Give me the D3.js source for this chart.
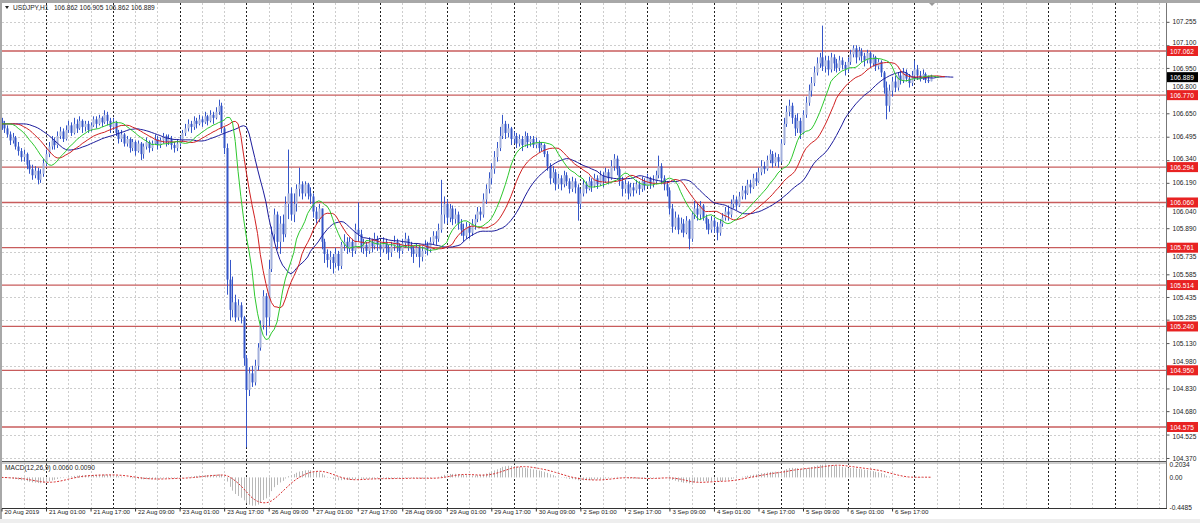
<!DOCTYPE html>
<html><head><meta charset="utf-8">
<script src="https://cdn.jsdelivr.net/npm/d3@7/dist/d3.min.js"></script>
<style>
html,body{margin:0;padding:0;background:#fff;}
svg{display:block;font-family:"Liberation Sans",Arial,sans-serif;}
</style></head>
<body>
<svg id="c" width="1200" height="523"></svg>
<script>
// ---------------- DATA (USDJPY H1) ----------------
const symbolTitle = "USDJPY,H1   106.862 106.905 106.862 106.889";
const macdTitle = "MACD(12,26,9) 0.0060 0.0090";
const firstOpen = 106.60;
const closes = [
106.58,106.55,106.51,106.47,106.49,106.43,106.40,106.36,106.38,106.31,
106.28,106.24,106.27,106.21,106.25,106.32,106.38,106.43,106.47,106.44,
106.50,106.53,106.48,106.54,106.57,106.52,106.58,106.55,106.60,106.56,
106.58,106.54,106.57,106.61,106.58,106.62,106.59,106.64,106.60,106.56,
106.59,106.52,106.48,106.51,106.45,106.48,106.42,106.46,106.40,106.45,
106.38,106.43,106.46,106.42,106.45,106.48,106.44,106.47,106.50,106.46,
106.48,106.44,106.42,106.45,106.47,106.52,106.55,106.58,106.56,106.60,
106.58,106.61,106.59,106.63,106.60,106.64,106.62,106.66,106.70,106.55,
106.42,105.55,105.35,105.40,105.30,105.38,105.30,105.03,104.82,104.93,
104.87,104.98,105.10,105.25,105.44,105.30,105.62,105.85,105.98,105.80,
105.92,105.85,106.05,106.12,105.98,106.05,106.15,106.18,106.12,106.18,
106.12,106.10,106.00,105.95,106.02,105.80,105.72,105.68,105.70,105.66,
105.72,105.64,105.78,105.80,105.76,105.80,105.74,105.88,105.85,105.76,
105.78,105.74,105.80,105.77,105.82,105.78,105.75,105.80,105.76,105.73,
105.77,105.80,105.78,105.74,105.79,105.82,105.78,105.75,105.72,105.76,
105.70,105.74,105.78,105.75,105.80,105.84,105.82,105.88,105.98,106.05,
105.96,106.02,105.95,105.98,105.92,105.88,105.84,105.90,105.86,105.92,
105.95,106.00,105.98,106.08,106.15,106.22,106.28,106.36,106.42,106.50,
106.58,106.52,106.55,106.48,106.50,106.45,106.48,106.44,106.50,106.46,
106.48,106.44,106.46,106.42,106.44,106.38,106.30,106.22,106.26,106.18,
106.22,106.18,106.24,106.20,106.15,106.20,106.16,106.05,106.12,106.18,
106.15,106.20,106.17,106.22,106.18,106.24,106.20,106.26,106.22,106.30,
106.35,106.28,106.20,106.15,106.18,106.12,106.16,106.14,106.18,106.15,
106.20,106.17,106.22,106.18,106.20,106.24,106.30,106.22,106.18,106.14,
106.02,105.90,105.96,105.88,105.92,105.86,105.94,105.82,105.98,106.02,
105.98,106.04,105.96,105.92,105.88,105.94,105.90,105.86,105.92,105.96,
106.00,105.98,106.05,106.08,106.04,106.10,106.14,106.12,106.18,106.16,
106.22,106.20,106.26,106.30,106.28,106.34,106.38,106.32,106.36,106.33,
106.45,106.58,106.66,106.70,106.62,106.55,106.60,106.52,106.64,106.72,
106.80,106.85,106.92,106.98,107.02,106.96,107.00,106.94,107.02,106.98,
106.95,107.00,106.97,106.94,106.99,107.04,107.08,107.02,107.06,107.03,
107.00,107.05,106.98,107.02,106.96,106.99,106.92,106.82,106.70,106.80,
106.86,106.82,106.90,106.87,106.92,106.88,106.85,106.90,106.94,106.90,
106.88,106.91,106.87,106.862,106.889
];
const highs = [
106.62,106.60,106.57,106.53,106.52,106.50,106.46,106.42,106.41,106.39,
106.34,106.31,106.30,106.29,106.28,106.35,106.41,106.46,106.50,106.49,
106.53,106.56,106.55,106.57,106.60,106.59,106.62,106.61,106.63,106.61,
106.60,106.60,106.59,106.63,106.63,106.64,106.63,106.67,106.66,106.62,
106.62,106.60,106.54,106.54,106.52,106.50,106.49,106.48,106.47,106.47,
106.46,106.45,106.49,106.47,106.47,106.51,106.50,106.49,106.52,106.51,
106.51,106.50,106.46,106.48,106.50,106.54,106.58,106.61,106.60,106.63,
106.62,106.64,106.63,106.66,106.64,106.67,106.66,106.69,106.74,106.72,
106.56,106.45,105.68,105.57,105.45,105.42,105.40,105.31,105.05,104.97,
104.98,105.02,105.13,105.28,105.48,105.46,105.68,105.90,106.02,106.00,
105.97,105.98,106.10,106.41,106.16,106.12,106.18,106.29,106.20,106.20,
106.19,106.16,106.12,106.03,106.05,106.02,105.82,105.75,105.74,105.72,
105.76,105.74,105.80,105.85,105.83,105.83,105.82,105.92,106.06,105.88,
105.82,105.80,105.83,105.82,105.86,105.84,105.80,105.83,105.82,105.78,
105.80,105.84,105.82,105.79,105.82,105.86,105.84,105.80,105.77,105.79,
105.78,105.77,105.81,105.80,105.83,105.87,105.87,105.92,106.21,106.10,
106.08,106.05,106.04,106.02,106.00,105.95,105.92,105.93,105.92,105.95,
105.98,106.03,106.03,106.12,106.18,106.26,106.32,106.40,106.46,106.56,
106.64,106.60,106.58,106.56,106.53,106.52,106.51,106.50,106.53,106.52,
106.50,106.50,106.49,106.47,106.46,106.45,106.40,106.32,106.30,106.28,
106.25,106.24,106.27,106.26,106.22,106.23,106.22,106.18,106.15,106.21,
106.20,106.23,106.22,106.25,106.24,106.27,106.26,106.29,106.28,106.34,
106.38,106.37,106.30,106.23,106.21,106.20,106.19,106.19,106.21,106.20,
106.23,106.22,106.25,106.23,106.24,106.27,106.37,106.32,106.24,106.20,
106.16,106.05,106.00,105.98,105.96,105.95,105.97,105.95,106.00,106.07,
106.06,106.07,106.05,105.98,105.95,105.97,105.96,105.93,105.95,105.99,
106.03,106.04,106.08,106.11,106.10,106.13,106.17,106.17,106.21,106.21,
106.25,106.26,106.29,106.34,106.33,106.37,106.41,106.40,106.39,106.38,
106.48,106.62,106.70,106.74,106.72,106.64,106.65,106.62,106.67,106.76,
106.84,106.89,106.96,107.02,107.05,107.23,107.03,107.03,107.05,107.04,
107.01,107.03,107.02,106.99,107.02,107.07,107.10,107.10,107.09,107.08,
107.05,107.07,107.06,107.04,107.03,107.01,107.00,106.93,106.86,106.84,
106.89,106.90,106.92,106.93,106.95,106.94,106.91,106.93,107.00,106.97,
106.93,106.94,106.92,106.90,106.905
];
const lows = [
106.54,106.52,106.49,106.44,106.45,106.41,106.37,106.33,106.33,106.28,
106.25,106.21,106.22,106.18,106.19,106.23,106.30,106.36,106.41,106.41,
106.42,106.48,106.46,106.47,106.52,106.50,106.51,106.52,106.54,106.52,
106.53,106.52,106.53,106.56,106.55,106.57,106.56,106.58,106.57,106.52,
106.54,106.50,106.45,106.46,106.43,106.43,106.39,106.40,106.37,106.39,
106.34,106.35,106.41,106.39,106.40,106.44,106.41,106.42,106.45,106.43,
106.44,106.41,106.39,106.40,106.43,106.46,106.50,106.53,106.52,106.54,
106.55,106.57,106.56,106.58,106.57,106.59,106.58,106.61,106.64,106.52,
106.38,105.45,105.28,105.30,105.27,105.28,105.26,104.98,104.44,104.78,
104.84,104.85,104.95,105.08,105.22,105.18,105.24,105.60,105.80,105.75,
105.72,105.80,105.83,105.95,105.94,105.93,106.00,106.10,106.08,106.10,
106.08,106.05,105.96,105.92,105.93,105.75,105.66,105.63,105.62,105.59,
105.63,105.61,105.62,105.74,105.72,105.73,105.70,105.72,105.80,105.73,
105.72,105.70,105.72,105.73,105.75,105.74,105.70,105.73,105.72,105.68,
105.70,105.74,105.73,105.69,105.72,105.76,105.74,105.70,105.66,105.70,
105.63,105.67,105.72,105.71,105.73,105.78,105.78,105.80,105.86,105.92,
105.92,105.93,105.91,105.92,105.88,105.84,105.80,105.82,105.82,105.84,
105.88,105.93,105.94,105.96,106.05,106.12,106.18,106.25,106.33,106.40,
106.48,106.48,106.49,106.44,106.45,106.42,106.43,106.40,106.43,106.42,
106.43,106.42,106.42,106.39,106.40,106.36,106.27,106.18,106.19,106.14,
106.15,106.14,106.16,106.17,106.12,106.13,106.12,105.94,106.02,106.10,
106.12,106.14,106.13,106.16,106.15,106.17,106.16,106.19,106.18,106.21,
106.27,106.24,106.17,106.10,106.12,106.08,106.10,106.10,106.12,106.11,
106.13,106.14,106.16,106.15,106.16,106.18,106.22,106.18,106.14,106.10,
105.98,105.86,105.88,105.85,105.86,105.83,105.85,105.75,105.80,105.95,
105.94,105.95,105.94,105.88,105.85,105.86,105.86,105.81,105.84,105.90,
105.94,105.94,105.96,106.02,106.01,106.03,106.08,106.08,106.11,106.12,
106.15,106.17,106.19,106.24,106.25,106.27,106.32,106.29,106.30,106.29,
106.32,106.44,106.56,106.63,106.58,106.50,106.52,106.48,106.51,106.62,
106.70,106.76,106.83,106.90,106.95,106.93,106.92,106.90,106.92,106.93,
106.92,106.93,106.94,106.90,106.92,106.97,107.02,106.98,107.00,106.99,
106.96,106.98,106.95,106.96,106.93,106.94,106.89,106.78,106.61,106.66,
106.76,106.79,106.80,106.84,106.85,106.86,106.82,106.83,106.87,106.87,
106.86,106.87,106.85,106.85,106.862
];
const levelLines = [107.062, 106.770, 106.294, 106.060, 105.761, 105.514, 105.240, 104.950, 104.575];
const lastPrice = 106.889;
const priceTicks = [107.255,107.100,106.950,106.800,106.650,106.495,106.340,106.190,106.040,105.890,105.735,105.585,105.435,105.285,105.130,104.980,104.830,104.680,104.525,104.370];
const timeLabels = ["20 Aug 2019","21 Aug 01:00","21 Aug 17:00","22 Aug 09:00","23 Aug 01:00","23 Aug 17:00","26 Aug 09:00","27 Aug 01:00","27 Aug 17:00","28 Aug 09:00","29 Aug 01:00","29 Aug 17:00","30 Aug 09:00","2 Sep 01:00","2 Sep 17:00","3 Sep 09:00","4 Sep 01:00","4 Sep 17:00","5 Sep 09:00","6 Sep 01:00","6 Sep 17:00"];
const macdTicks = [0.2034, 0, -0.4485];
const macdTickText = ["0.2034","0.00","-0.4485"];
// indicator settings (Alligator: jaw / teeth / lips)
const alligator = [{n:13, shift:8, color:"#1c1c9c"},{n:8, shift:5, color:"#d02020"},{n:5, shift:3, color:"#2ec82e"}];

// ---------------- LAYOUT ----------------
const svg = d3.select("#c");
const W = 1200, H = 523;
const plotL = 2, plotR = 1166, mainT = 3, mainB = 461, macdT = 463, macdB = 508;
const FONT = 6.6, TFONT = 6.2;

const x = d3.scaleLinear().domain([0, 418]).range([1.5, 1164.8]);
const y = d3.scaleLinear().domain([107.062, 104.575]).range([51, 427]);
const ym = d3.scaleLinear().domain([0.2034, -0.4485]).range([464, 507]);

const bars = closes.map((c, i) => {
  const o = i === 0 ? firstOpen : closes[i - 1];
  return {i, o, c, h: Math.max(highs[i], o, c), l: Math.min(lows[i], o, c)};
});

// background + frame
svg.append("rect").attr("width", W).attr("height", H).attr("fill", "#fff");
svg.append("rect").attr("x",0).attr("y",0).attr("width",W).attr("height",3).attr("fill","#a8a8a8");
svg.append("rect").attr("x",0).attr("y",0).attr("width",2).attr("height",519).attr("fill","#a8a8a8");
svg.append("rect").attr("x",0).attr("y",519).attr("width",W).attr("height",4).attr("fill","#eeeeee");

const defs = svg.append("defs");
defs.append("clipPath").attr("id","mainClip").append("rect")
  .attr("x",plotL).attr("y",mainT).attr("width",plotR-plotL).attr("height",mainB-mainT);
defs.append("clipPath").attr("id","macdClip").append("rect")
  .attr("x",plotL).attr("y",macdT).attr("width",plotR-plotL).attr("height",macdB-macdT);

// grid
const grid = svg.append("g");
const vGrid = d3.range(8, 418, 8);
const seps = d3.range(16, 418, 24);
[[mainT, mainB],[macdT, macdB]].forEach(([t,b]) => {
  grid.selectAll(null).data(vGrid.filter(v => !seps.includes(v))).enter().append("line")
    .attr("x1", d => Math.round(x(d)) + 0.5).attr("x2", d => Math.round(x(d)) + 0.5)
    .attr("y1", t).attr("y2", b)
    .attr("stroke", "#cdcdcd").attr("stroke-dasharray", "2,2");
});
grid.selectAll(null).data(priceTicks).enter().append("line")
  .attr("x1", plotL).attr("x2", plotR)
  .attr("y1", d => Math.round(y(d)) + 0.5).attr("y2", d => Math.round(y(d)) + 0.5)
  .attr("stroke", "#cdcdcd").attr("stroke-dasharray", "2,2");
[[mainT, mainB],[macdT, macdB]].forEach(([t,b]) => {
  grid.selectAll(null).data(seps).enter().append("line")
    .attr("x1", d => Math.round(x(d)) + 0.5).attr("x2", d => Math.round(x(d)) + 0.5)
    .attr("y1", t).attr("y2", b)
    .attr("stroke", "#222").attr("stroke-dasharray", "2,2");
});

// level lines
const main = svg.append("g").attr("clip-path","url(#mainClip)");
main.selectAll(null).data(levelLines).enter().append("line")
  .attr("x1", plotL).attr("x2", plotR)
  .attr("y1", d => y(d)).attr("y2", d => y(d))
  .attr("stroke", "#c85c5c").attr("stroke-width", 1.3);

// candles
const up = d => d.c >= d.o;
main.selectAll(null).data(bars).enter().append("line")
  .attr("x1", d => Math.round(x(d.i)) + 0.5).attr("x2", d => Math.round(x(d.i)) + 0.5)
  .attr("y1", d => y(d.h)).attr("y2", d => y(d.l))
  .attr("stroke", "#3556c8").attr("stroke-width", 1);
main.selectAll(null).data(bars).enter().append("rect")
  .attr("x", d => Math.round(x(d.i)) - 0.5).attr("width", 2)
  .attr("y", d => y(Math.max(d.o, d.c)))
  .attr("height", d => Math.max(1, Math.abs(y(d.o) - y(d.c))))
  .attr("fill", d => up(d) ? "#a3b0dc" : "#3556c8");

// alligator lines (SMMA of median price, shifted forward)
const median = bars.map(d => (d.h + d.l) / 2);
function smma(arr, n) {
  const out = []; let s = arr[0];
  arr.forEach((v, i) => { s = i === 0 ? v : (s * (n - 1) + v) / n; out.push(s); });
  return out;
}
alligator.forEach(a => {
  const s = smma(median, a.n);
  const pts = [];
  for (let j = 0; j < a.shift; j++) pts.push([j, s[0]]);
  s.forEach((v, i) => pts.push([i + a.shift, v]));
  main.append("path").datum(pts)
    .attr("fill", "none").attr("stroke", a.color).attr("stroke-width", 1)
    .attr("d", d3.line().x(d => x(d[0])).y(d => y(d[1])));
});

// MACD
function ema(arr, n) {
  const k = 2 / (n + 1); const out = []; let e = arr[0];
  arr.forEach((v, i) => { e = i === 0 ? v : v * k + e * (1 - k); out.push(e); });
  return out;
}
const e12 = ema(closes, 12), e26 = ema(closes, 26);
const macd = closes.map((_, i) => e12[i] - e26[i]);
const signal = macd.map((_, i) => d3.mean(macd.slice(Math.max(0, i - 8), i + 1)));
const mg = svg.append("g").attr("clip-path","url(#macdClip)");
mg.selectAll(null).data(macd).enter().append("line")
  .attr("x1", (d, i) => Math.round(x(i)) + 0.5).attr("x2", (d, i) => Math.round(x(i)) + 0.5)
  .attr("y1", ym(0)).attr("y2", d => ym(d))
  .attr("stroke", "#b8b8b8").attr("stroke-width", 1);
mg.append("path").datum(signal)
  .attr("fill","none").attr("stroke","#d83030").attr("stroke-width",1).attr("stroke-dasharray","2,1.5")
  .attr("d", d3.line().x((d, i) => x(i)).y(d => ym(d)));

// panel borders
svg.append("line").attr("x1",plotL).attr("x2",plotR).attr("y1",mainB+0.5).attr("y2",mainB+0.5).attr("stroke","#555");
svg.append("line").attr("x1",plotL).attr("x2",plotR).attr("y1",mainB+2).attr("y2",mainB+2).attr("stroke","#9a9a9a");
svg.append("line").attr("x1",plotR+0.5).attr("x2",plotR+0.5).attr("y1",mainT).attr("y2",macdB).attr("stroke","#777");
svg.append("line").attr("x1",plotL).attr("x2",plotR+1).attr("y1",macdB+0.5).attr("y2",macdB+0.5).attr("stroke","#333");

// price axis
const pAxis = svg.append("g").attr("transform", `translate(${plotR+0.5},0)`)
  .call(d3.axisRight(y).tickValues(priceTicks).tickFormat(d3.format(".3f")).tickSize(3).tickPadding(3));
pAxis.select(".domain").remove();
pAxis.selectAll("line").attr("stroke","#555");
pAxis.selectAll("text").attr("font-size", FONT).attr("fill","#222").attr("font-family","Liberation Sans, Arial, sans-serif");
// nudge tick labels that would sit under a level/price box so they stay readable
const boxes = levelLines.concat([lastPrice]).map(v => y(v));
pAxis.selectAll(".tick").each(function(d) {
  const ty = y(d);
  let off = 0;
  boxes.forEach(by => {
    const gap = ty - by;
    if (Math.abs(gap) < 9) off = gap >= 0 ? (9 - gap) : -(9 + gap);
  });
  d3.select(this).select("text").attr("transform", `translate(0,${off})`);
});

// level labels
const lv = svg.append("g");
levelLines.forEach(v => {
  lv.append("rect").attr("x", plotR+1).attr("y", y(v)-5).attr("width", 31).attr("height", 10).attr("fill", "#e82222");
  lv.append("text").attr("x", plotR+4).attr("y", y(v)+2.5).attr("font-size", FONT).attr("fill","#fff").text(v.toFixed(3));
});
lv.append("rect").attr("x", plotR+1).attr("y", y(lastPrice)-5).attr("width", 31).attr("height", 10).attr("fill", "#000");
lv.append("text").attr("x", plotR+4).attr("y", y(lastPrice)+2.5).attr("font-size", FONT).attr("fill","#fff").text(lastPrice.toFixed(3));

// MACD axis
const mAxis = svg.append("g").attr("transform", `translate(${plotR+0.5},0)`)
  .call(d3.axisRight(ym).tickValues(macdTicks).tickFormat((d, i) => macdTickText[i]).tickSize(0).tickPadding(3));
mAxis.select(".domain").remove();
mAxis.selectAll("text").attr("font-size", FONT).attr("fill","#222");

// time axis
const labelIdx = timeLabels.map((_, k) => k * 16);
const tAxis = svg.append("g").attr("transform", `translate(0,${macdB+0.5})`)
  .call(d3.axisBottom(x).tickValues(labelIdx).tickFormat((d, i) => timeLabels[i]).tickSize(3).tickPadding(2));
tAxis.select(".domain").remove();
tAxis.selectAll("line").attr("stroke","#333");
tAxis.selectAll("text").attr("font-size", TFONT).attr("fill","#222").attr("text-anchor","start").attr("dx", 2.5).attr("dy","0.7em").attr("y", 1.5);

// titles
svg.append("path").attr("d","M5,6 L9,6 L7,9 Z").attr("fill","#222");
svg.append("text").attr("x", 13).attr("y", 10).attr("font-size", FONT).attr("fill","#222").attr("xml:space","preserve").text(symbolTitle);
svg.append("text").attr("x", 5).attr("y", 470).attr("font-size", FONT).attr("fill","#222").text(macdTitle);
// chart shift marker
svg.append("path").attr("d", `M${x(334)-2},3 L${x(334)+4},3 L${x(334)+1},6 Z`).attr("fill","#999");
</script>
</body></html>
